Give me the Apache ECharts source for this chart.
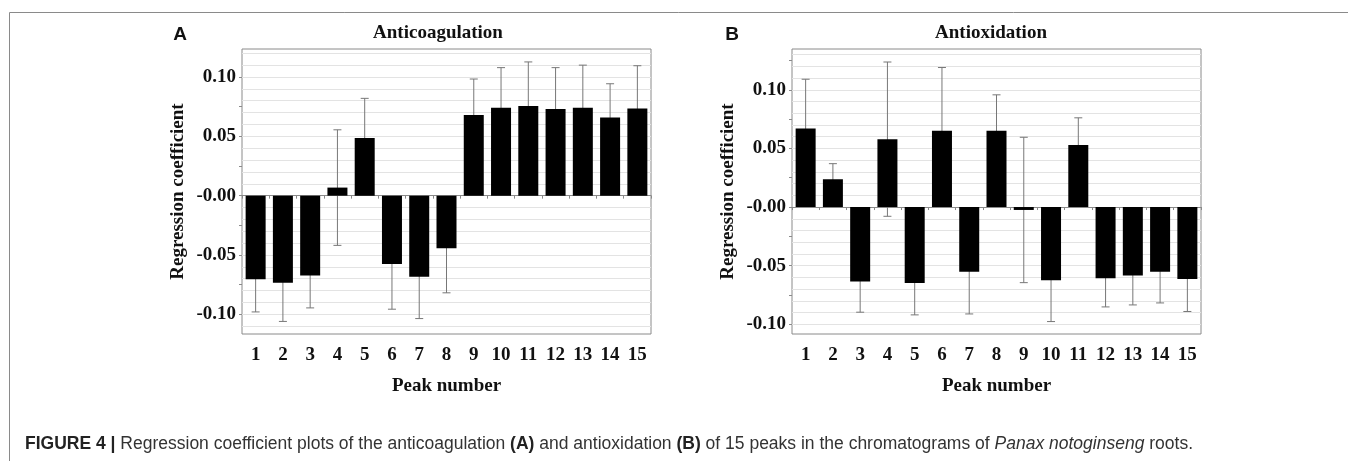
<!DOCTYPE html>
<html>
<head>
<meta charset="utf-8">
<script src="https://cdn.jsdelivr.net/npm/echarts@6/dist/echarts.min.js"></script>
<style>
html,body{margin:0;padding:0;background:#fff;}
#chart{width:1348px;height:461px;}
</style>
</head>
<body>
<div id="chart"></div>
<script>
// ---- data ----
const categories = ['1','2','3','4','5','6','7','8','9','10','11','12','13','14','15'];
const anticoagValues = [-0.0704,-0.0735,-0.0673,0.0068,0.0485,-0.0577,-0.0684,-0.0444,0.0679,0.0741,0.0755,0.0730,0.0741,0.0659,0.0735];
const anticoagErrors = [0.0276,0.0325,0.0273,0.0487,0.0335,0.0380,0.0352,0.0375,0.0304,0.0338,0.0372,0.0349,0.0359,0.0284,0.0360];
const antioxValues = [0.0669,0.0237,-0.0635,0.0579,-0.0647,0.0650,-0.0553,0.0650,-0.0025,-0.0624,0.0530,-0.0607,-0.0584,-0.0553,-0.0613];
const antioxErrors = [0.0421,0.0133,0.0262,0.0658,0.0273,0.0540,0.0359,0.0307,0.0620,0.0353,0.0231,0.0245,0.0251,0.0265,0.0278];
const yTickValues = [-0.10,-0.05,0,0.05,0.10];
const yTickLabels = ['-0.10','-0.05','-0.00','0.05','0.10'];
const panelTitles = ['Anticoagulation','Antioxidation'];
const panelLetters = ['A','B'];
const xAxisName = 'Peak number';
const yAxisName = 'Regression coefficient';

// helper value lists for grid lines / minor ticks
function steps(lo, hi, st){ const out=[]; for(let k=Math.ceil(lo/st-1e-9); k*st<=hi+1e-9; k++){ out.push(+(k*st).toFixed(4)); } return out; }

const chart = echarts.init(document.getElementById('chart'), null, {renderer:'canvas'});

const serif = '"Liberation Serif","Times New Roman",serif';
const sans = '"Liberation Sans",Arial,sans-serif';

const grids = [
  {left:242, top:49, width:409, height:285},
  {left:792, top:49, width:409, height:285}
];
const yRanges = [[-0.1166,0.1236],[-0.1083,0.1348]];
const valuesList = [anticoagValues, antioxValues];
const errorsList = [anticoagErrors, antioxErrors];

const option = {
  animation:false,
  backgroundColor:'#fff',
  grid: grids.map(g => Object.assign({show:true, borderColor:'#8a8a8a', borderWidth:1, backgroundColor:'transparent', containLabel:false, outerBoundsMode:'none'}, g)),
  xAxis: [],
  yAxis: [],
  series: [],
  graphic: []
};

for (let p=0;p<2;p++){
  const [mn,mx] = yRanges[p];
  const xi = option.xAxis.length;
  option.xAxis.push({
    type:'category', gridIndex:p, data:categories, position:'bottom',
    axisLine:{show:false, onZero:false}, axisTick:{show:false},
    axisLabel:{fontFamily:serif, fontWeight:'bold', fontSize:19, color:'#111', margin:12, interval:0},
    name:xAxisName, nameLocation:'middle', nameGap:43,
    nameTextStyle:{fontFamily:serif, fontWeight:'bold', fontSize:19, color:'#111'},
    splitLine:{show:false}
  });
  option.xAxis.push({
    type:'category', gridIndex:p, data:categories, position:'bottom',
    axisLine:{show:true, onZero:true, lineStyle:{color:'#8a8a8a', width:1}},
    axisTick:{show:true, length:3, lineStyle:{color:'#8a8a8a'}},
    axisLabel:{show:false}, splitLine:{show:false}
  });
  const yi = option.yAxis.length;
  option.yAxis.push({
    type:'value', gridIndex:p, min:mn, max:mx, position:'left',
    axisLine:{show:false},
    axisTick:{show:false, customValues: steps(mn,mx,0.01)},
    axisLabel:{customValues: yTickValues, fontFamily:serif, fontWeight:'bold', fontSize:19, color:'#111', margin:6,
      formatter: v => { const i = yTickValues.findIndex(t => Math.abs(t-v)<1e-9); return i>=0 ? yTickLabels[i] : ''; }},
    splitLine:{show:true, lineStyle:{color:'#e3e3e3', width:1}},
    name:yAxisName, nameLocation:'middle', nameGap:54, nameRotate:90,
    nameTextStyle:{fontFamily:serif, fontWeight:'bold', fontSize:19, color:'#111'}
  });
  option.yAxis.push({
    type:'value', gridIndex:p, min:mn, max:mx, position:'left',
    axisLine:{show:false},
    axisTick:{show:true, length:3, customValues: steps(mn,mx,0.025), lineStyle:{color:'#8a8a8a'}},
    axisLabel:{show:false}, splitLine:{show:false}
  });

  const vals = valuesList[p], errs = errorsList[p];
  option.series.push({
    type:'custom', xAxisIndex:xi, yAxisIndex:yi, z:2,
    encode:{x:0, y:1},
    data: vals.map((v,i)=>[i, v, errs[i]]),
    renderItem:(params, api)=>{
      const x = api.value(0), v = api.value(1), e = api.value(2);
      const hi = api.coord([x, v+e]), lo = api.coord([x, v-e]);
      const c = 4, st = {stroke:'#777', lineWidth:1};
      return {type:'group', children:[
        {type:'line', shape:{x1:hi[0], y1:hi[1], x2:lo[0], y2:lo[1]}, style:st},
        {type:'line', shape:{x1:hi[0]-c, y1:hi[1], x2:hi[0]+c, y2:hi[1]}, style:st},
        {type:'line', shape:{x1:lo[0]-c, y1:lo[1], x2:lo[0]+c, y2:lo[1]}, style:st}
      ]};
    }
  });
  option.series.push({
    type:'bar', xAxisIndex:xi, yAxisIndex:yi, z:3,
    data: vals, barWidth:20,
    itemStyle:{color:'#000'}
  });

  option.graphic.push({
    type:'text', x: p===0 ? 438 : 991, y:33, z:10,
    style:{text:panelTitles[p], font:'bold 19px '+serif, fill:'#111', align:'center', verticalAlign:'middle'}
  });
  option.graphic.push({
    type:'text', x: p===0 ? 180 : 732, y:35, z:10,
    style:{text:panelLetters[p], font:'bold 19px '+sans, fill:'#111', align:'center', verticalAlign:'middle'}
  });
}

// figure frame and caption
option.graphic.push({type:'line', shape:{x1:9.5, y1:12.5, x2:1348, y2:12.5}, style:{stroke:'#8a8a8a', lineWidth:1}});
option.graphic.push({type:'line', shape:{x1:9.5, y1:12.5, x2:9.5, y2:461}, style:{stroke:'#8a8a8a', lineWidth:1}});
option.graphic.push({
  type:'text', x:25, y:444, z:10,
  style:{
    text:'{b|FIGURE 4 |} Regression coefficient plots of the anticoagulation {b|(A)} and antioxidation {b|(B)} of 15 peaks in the chromatograms of {i|Panax notoginseng} roots.',
    font:'17.5px '+sans, fill:'#333', verticalAlign:'middle',
    rich:{
      b:{fontWeight:'bold', fontSize:17.5, fontFamily:sans, fill:'#222', color:'#222'},
      i:{fontStyle:'italic', fontSize:17.5, fontFamily:sans, fill:'#333', color:'#333'}
    }
  }
});

chart.setOption(option);
</script>
</body>
</html>
